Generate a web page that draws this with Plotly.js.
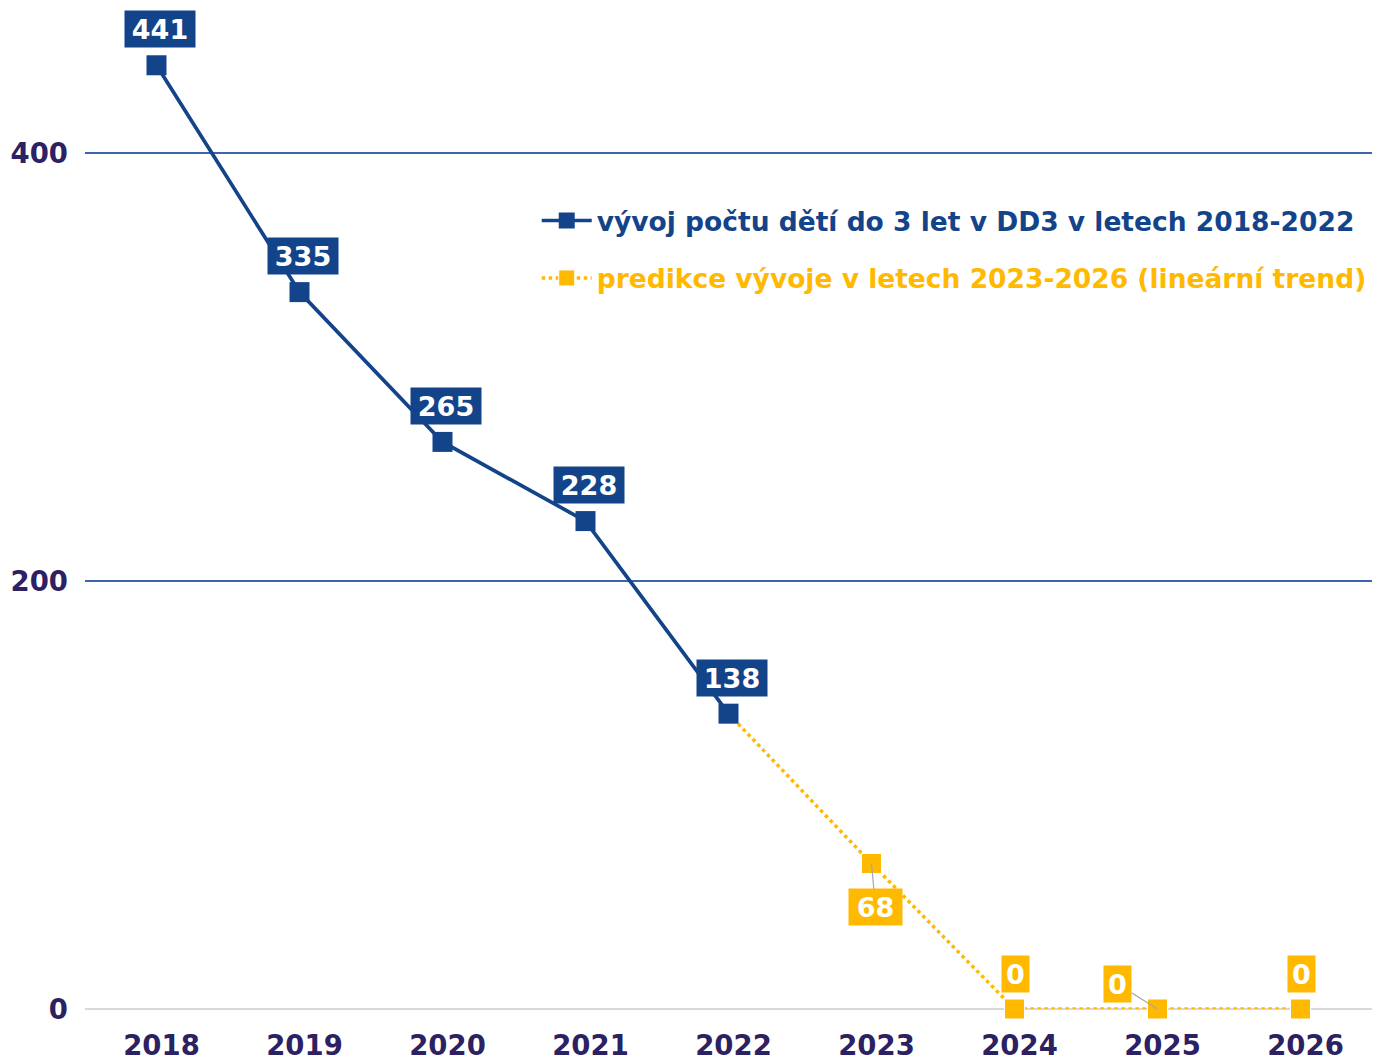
<!DOCTYPE html>
<html><head><meta charset="utf-8">
<script src="https://cdn.plot.ly/plotly-3.0.1.min.js"></script>
<style>html,body{margin:0;padding:0;background:#fff}#chart{width:1389px;height:1059px}</style>
</head><body><div id="chart"></div>
<script>
const years = ['2018','2019','2020','2021','2022','2023','2024','2025','2026'];
const actualYears = ['2018','2019','2020','2021','2022'];
const actualValues = [441, 335, 265, 228, 138];
const predYears = ['2022','2023','2024','2025','2026'];
const predValues = [138, 68, 0, 0, 0];
const actualName = 'vývoj počtu dětí do 3 let v DD3 v letech 2018-2022';
const predName = 'predikce vývoje v letech 2023-2026 (lineární trend)';

const BLUE = '#13448a';
const YEL = '#ffb900';
const FONT = 'DejaVu Sans, Verdana, sans-serif';

const traces = [
  {x: predYears, y: predValues, mode: 'lines+markers', name: '<span style="color:' + YEL + '">' + predName + '</span>',
   line: {color: YEL, width: 3.5, dash: 'dot'},
   marker: {symbol: 'square', size: predValues.map((v, i) => i === 0 ? 0 : 20), color: YEL, opacity: 1},
   cliponaxis: false, legendgroup: 'b', legendrank: 2},
  {x: actualYears, y: actualValues, mode: 'lines+markers', name: '<span style="color:' + BLUE + '">' + actualName + '</span>',
   line: {color: BLUE, width: 3.7},
   marker: {symbol: 'square', size: 20, color: BLUE, opacity: 1},
   cliponaxis: false, legendgroup: 'a', legendrank: 1}
];

const annotations = [];
const labelFont = {family: FONT, size: 27, color: '#fff', weight: 'bold'};
const boxW = t => ({1: 19, 2: 45, 3: 62})[String(t).length];
actualYears.forEach((yr, i) => {
  const t = String(actualValues[i]);
  annotations.push({x: years.indexOf(yr), y: actualValues[i], text: t, showarrow: false,
    xshift: 3, yshift: 36, bgcolor: BLUE, borderpad: 4, width: boxW(t), height: 28, font: labelFont});
});
const predStyle = [null,
  {ax: 4, ay: 44, arrow: true},
  {ax: 1, ay: -35, arrow: false},
  {ax: -40, ay: -25, arrow: true},
  {ax: 1, ay: -35, arrow: false}];
predYears.forEach((yr, i) => {
  if (i === 0) return;
  const s = predStyle[i];
  const xi = years.indexOf(yr);
  const t = String(predValues[i]);
  if (s.arrow) {
    annotations.push({x: xi, y: predValues[i], text: t, showarrow: true,
      ax: s.ax, ay: s.ay, arrowhead: 0, arrowwidth: 1.2, arrowcolor: '#a6a6a6', standoff: 0,
      bgcolor: YEL, borderpad: 4, width: boxW(t), height: 28, font: labelFont});
  } else {
    annotations.push({x: xi, y: predValues[i], text: t, showarrow: false,
      xshift: s.ax, yshift: -s.ay, bgcolor: YEL, borderpad: 4, width: boxW(t), height: 28, font: labelFont});
  }
});

const layout = {
  width: 1389, height: 1059,
  margin: {l: 85, r: 17, t: 0, b: 50},
  paper_bgcolor: '#fff', plot_bgcolor: '#fff',
  showlegend: true,
  legend: {x: 0.351, y: 0.805, xanchor: 'left', yanchor: 'top', bgcolor: 'rgba(0,0,0,0)',
    font: {family: FONT, size: 26.5, weight: 'bold'}, tracegroupgap: 20, itemwidth: 50},
  xaxis: {type: 'category', categoryorder: 'array', categoryarray: years, range: [-0.5, 8.5],
    showgrid: false, zeroline: false, showline: false, ticks: '', ticklabelstandoff: 17, ticklabelshift: 5,
    tickfont: {family: FONT, size: 27.5, color: '#2b2163', weight: 'bold'}},
  yaxis: {range: [0, 471.5], tickvals: [0, 200, 400], showgrid: true, gridcolor: '#3b64ad', gridwidth: 1.3,
    zeroline: true, zerolinecolor: '#d9d9d9', zerolinewidth: 2, showline: false, ticks: '',
    ticklabelstandoff: 16,
    tickfont: {family: FONT, size: 27.5, color: '#2b2163', weight: 'bold'}},
  annotations: annotations
};

Plotly.newPlot('chart', traces, layout, {displayModeBar: false, staticPlot: true});
</script></body></html>
